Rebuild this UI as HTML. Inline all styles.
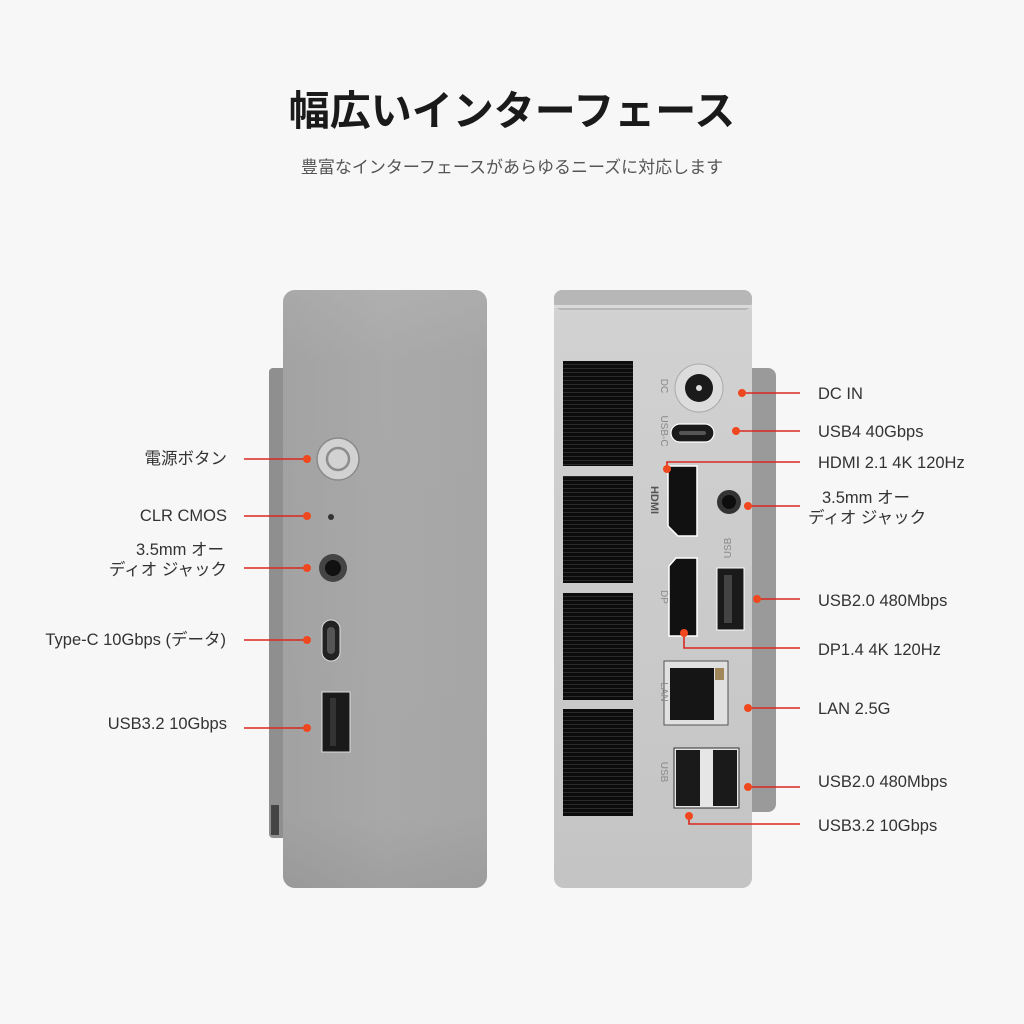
<!DOCTYPE html>
<html><head><meta charset="utf-8"><style>
html,body{margin:0;padding:0;background:#f7f7f7;}
svg{display:block}
text{font-family:"Liberation Sans","Noto Sans CJK JP",sans-serif;}
</style></head><body>
<svg width="1024" height="1024" viewBox="0 0 1024 1024" xmlns="http://www.w3.org/2000/svg">
<defs>
<linearGradient id="lg" x1="0" y1="0" x2="1" y2="0">
<stop offset="0" stop-color="#9d9d9d"/><stop offset="0.5" stop-color="#aaaaaa"/><stop offset="1" stop-color="#a4a4a4"/></linearGradient>
<linearGradient id="lt" x1="0" y1="0" x2="0" y2="1">
<stop offset="0" stop-color="#b4b4b4"/><stop offset="0.12" stop-color="#a8a8a8"/><stop offset="0.88" stop-color="#a6a6a6"/><stop offset="1" stop-color="#959595"/></linearGradient>
<linearGradient id="rf" x1="0" y1="0" x2="0" y2="1">
<stop offset="0" stop-color="#d2d2d2"/><stop offset="1" stop-color="#c4c4c4"/></linearGradient>
<pattern id="vent" width="4" height="4" patternUnits="userSpaceOnUse"><rect width="4" height="4" fill="#0c0c0c"/><rect width="4" height="1" fill="#2a2a2a"/></pattern>
</defs>
<rect width="1024" height="1024" fill="#f7f7f7"/>
<text x="512" y="125" text-anchor="middle" font-size="41" font-weight="bold" fill="#1a1a1a">幅広いインターフェース</text>
<text x="512" y="173" text-anchor="middle" font-size="17" fill="#555">豊富なインターフェースがあらゆるニーズに対応します</text>

<!-- left device -->
<rect x="269" y="368" width="20" height="470" rx="4" fill="#8f8f8f"/>
<rect x="271" y="805" width="8" height="30" fill="#444"/>
<rect x="283" y="290" width="204" height="598" rx="12" fill="url(#lt)"/>
<rect x="283" y="290" width="204" height="598" rx="12" fill="url(#lg)" opacity="0.5"/>
<circle cx="338" cy="459" r="21" fill="#d2d2d2" stroke="#8a8a8a" stroke-width="1.5"/>
<circle cx="338" cy="459" r="11" fill="none" stroke="#8c8c8c" stroke-width="2.5"/>
<circle cx="331" cy="517" r="3" fill="#333"/>
<circle cx="333" cy="568" r="14" fill="#444"/><circle cx="333" cy="568" r="8" fill="#111"/>
<rect x="322" y="620" width="18" height="41" rx="9" fill="#222" stroke="#ddd" stroke-width="1"/>
<rect x="327" y="627" width="8" height="27" rx="4" fill="#555"/>
<rect x="322" y="692" width="28" height="60" fill="#1a1a1a" stroke="#ddd" stroke-width="1"/>
<rect x="330" y="698" width="6" height="48" fill="#333"/>

<g stroke="#d9281e" stroke-width="1.6">
<line x1="244" y1="459" x2="306" y2="459"/><line x1="244" y1="516" x2="306" y2="516"/>
<line x1="244" y1="568" x2="306" y2="568"/><line x1="244" y1="640" x2="306" y2="640"/>
<line x1="244" y1="728" x2="306" y2="728"/></g>
<g fill="#f0481e"><circle cx="307" cy="459" r="4"/><circle cx="307" cy="516" r="4"/><circle cx="307" cy="568" r="4"/><circle cx="307" cy="640" r="4"/><circle cx="307" cy="728" r="4"/></g>
<g font-size="16.5" fill="#333" text-anchor="end">
<text x="227" y="464">電源ボタン</text>
<text x="227" y="521">CLR CMOS</text>
<text x="224" y="555">3.5mm オー</text>
<text x="227" y="575">ディオ ジャック</text>
<text x="226" y="645">Type-C 10Gbps (データ)</text>
<text x="227" y="729">USB3.2 10Gbps</text></g>

<!-- right device -->
<rect x="740" y="368" width="36" height="444" rx="8" fill="#9a9a9a"/>
<rect x="554" y="290" width="198" height="598" rx="10" fill="url(#rf)"/>
<rect x="554" y="290" width="198" height="20" rx="8" fill="#b7b7b7"/>
<rect x="554" y="305" width="198" height="3" fill="#dadada"/>
<rect x="563" y="361" width="70" height="105" fill="url(#vent)"/>
<rect x="563" y="476" width="70" height="107" fill="url(#vent)"/>
<rect x="563" y="593" width="70" height="107" fill="url(#vent)"/>
<rect x="563" y="709" width="70" height="107" fill="url(#vent)"/>
<circle cx="699" cy="388" r="24" fill="#dcdcdc" stroke="#aaa"/>
<circle cx="699" cy="388" r="14" fill="#1a1a1a"/><circle cx="699" cy="388" r="3" fill="#ddd"/>
<rect x="671" y="424" width="43" height="18" rx="9" fill="#1a1a1a" stroke="#fff" stroke-width="1.2"/>
<rect x="679" y="431" width="27" height="4" rx="2" fill="#555"/>
<path d="M668 466 H697 V536 H678 L668 526 Z" fill="#111" stroke="#fff" stroke-width="1.5"/>
<circle cx="729" cy="502" r="12" fill="#333"/><circle cx="729" cy="502" r="7" fill="#0d0d0d"/>
<path d="M676 558 H697 V636 H669 V566 Z" fill="#111" stroke="#fff" stroke-width="1.5"/>
<rect x="717" y="568" width="27" height="62" fill="#1a1a1a" stroke="#fff" stroke-width="1"/>
<rect x="724" y="575" width="8" height="48" fill="#444"/>
<rect x="664" y="661" width="64" height="64" fill="#e0e0e0" stroke="#555"/>
<rect x="670" y="668" width="44" height="52" fill="#151515"/>
<rect x="715" y="668" width="9" height="12" fill="#a0885a"/>
<rect x="674" y="748" width="65" height="60" fill="#e6e6e6" stroke="#333"/>
<rect x="676" y="750" width="24" height="56" fill="#1a1a1a"/><rect x="713" y="750" width="24" height="56" fill="#1a1a1a"/>
<g font-size="10" fill="#8a8a8a">
<text transform="translate(661,386) rotate(90)" text-anchor="middle">DC</text>
<text transform="translate(661,431) rotate(90)" text-anchor="middle">USB-C</text>
<text transform="translate(661,597) rotate(90)" text-anchor="middle">DP</text>
<text transform="translate(661,692) rotate(90)" text-anchor="middle">LAN</text>
<text transform="translate(661,772) rotate(90)" text-anchor="middle">USB</text>
<text transform="translate(731,548) rotate(-90)" text-anchor="middle">USB</text>
<text transform="translate(651,500) rotate(90)" text-anchor="middle" font-weight="bold" font-size="11" fill="#555">HDMI</text>
</g>
<g stroke="#d9281e" stroke-width="1.6" fill="none">
<line x1="742" y1="393" x2="800" y2="393"/><line x1="736" y1="431" x2="800" y2="431"/>
<polyline points="667,469 667,462 800,462"/><line x1="748" y1="506" x2="800" y2="506"/>
<line x1="757" y1="599" x2="800" y2="599"/><polyline points="684,633 684,648 800,648"/>
<line x1="748" y1="708" x2="800" y2="708"/><line x1="748" y1="787" x2="800" y2="787"/>
<polyline points="689,816 689,824 800,824"/></g>
<g fill="#f0481e"><circle cx="742" cy="393" r="4"/><circle cx="736" cy="431" r="4"/><circle cx="667" cy="469" r="4"/><circle cx="748" cy="506" r="4"/><circle cx="757" cy="599" r="4"/><circle cx="684" cy="633" r="4"/><circle cx="748" cy="708" r="4"/><circle cx="748" cy="787" r="4"/><circle cx="689" cy="816" r="4"/></g>
<g font-size="16.5" fill="#333">
<text x="818" y="399">DC IN</text>
<text x="818" y="437">USB4 40Gbps</text>
<text x="818" y="468">HDMI 2.1 4K 120Hz</text>
<text x="822" y="503">3.5mm オー</text>
<text x="808" y="523">ディオ ジャック</text>
<text x="818" y="606">USB2.0 480Mbps</text>
<text x="818" y="655">DP1.4 4K 120Hz</text>
<text x="818" y="714">LAN 2.5G</text>
<text x="818" y="787">USB2.0 480Mbps</text>
<text x="818" y="831">USB3.2 10Gbps</text></g>
</svg>
</body></html>
